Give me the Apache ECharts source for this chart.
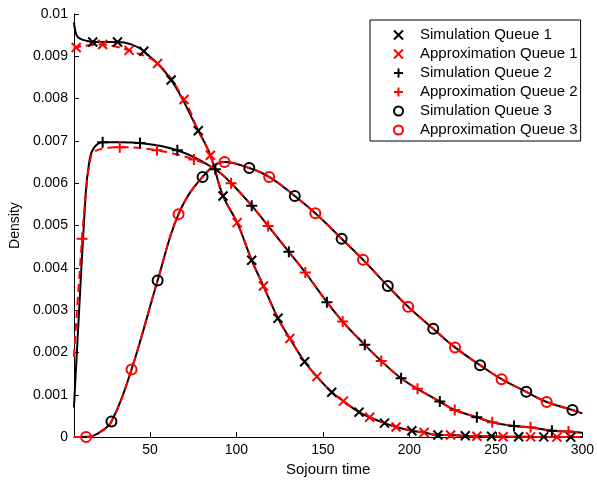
<!DOCTYPE html>
<html><head><meta charset="utf-8">
<script src="https://cdn.jsdelivr.net/npm/echarts@6/dist/echarts.min.js"></script>
<style>html,body{margin:0;padding:0;background:#fff}#c{width:597px;height:482px}</style>
</head><body><div id="c"></div>
<script>
const xTicks = [50, 100, 150, 200, 250, 300];

// Queue 1
const q1SimMarkers = [[16.9,0.00934],[31.2,0.00934],[46.4,0.00912],[62.2,0.00844],[77.9,0.00724],[92.2,0.00570],[108.8,0.00418],[124.0,0.00281],[139.4,0.00178],[155.1,0.00106],[170.9,0.00059],[185.6,0.00033],[201.4,0.00015],[216.5,0.00005],[232.3,0.00003],[247.5,0.00002],[263.2,0.00001],[277.7,0.000005],[293.3,0]];
const q1SimCurve = [[6,0.0098],[7.5,0.0095],[9.5,0.00942],[13,0.00937],[38.5,0.00929],[300,0]];
const q1AppMarkers = [[7.3,0.00921],[22.6,0.00928],[37.9,0.00914],[54.4,0.00883],[69.7,0.00798],[84.9,0.00666],[100.4,0.00507],[115.6,0.00357],[130.9,0.00233],[146.5,0.00143],[161.8,0.00085],[177.0,0.00047],[192.3,0.00024],[208.5,0.00011],[223.8,0.00005],[239.0,0.00002],[254.2,0.00001],[270.1,0.000005],[285.3,0]];
const q1AppCurve = [[6,0.00916],[15,0.00926],[30,0.00923],[300,0]];

// Queue 2
const q2SimMarkers = [[22.6,0.00697],[44.2,0.00695],[65.8,0.00678],[87.8,0.00633],[108.8,0.00547],[130.3,0.00438],[152.3,0.00319],[174.2,0.00218],[195.2,0.00139],[217.6,0.00084],[239.0,0.00047],[260.5,0.00026],[282.4,0.00015]];
const q2SimCurve = [[6,0.0007],[12.7,0.0057],[14.5,0.0064],[17,0.0068],[33,0.00697],[300,0.0001]];
const q2AppMarkers = [[10.7,0.00469],[32.5,0.00685],[54.0,0.00678],[75.4,0.00656],[96.9,0.00600],[118.3,0.00499],[139.8,0.00389],[161.4,0.00273],[183.7,0.00180],[204.7,0.00114],[226.2,0.00064],[247.9,0.00035],[270.1,0.00023],[292.0,0.00013]];
const q2AppCurve = [[6,0.0019],[13.5,0.0060],[15,0.00644],[17.8,0.00675],[300,0.0001]];

// Queue 3
const q3SimMarkers = [[27.7,0.00037],[54.4,0.00370],[80.4,0.00615],[107.4,0.00636],[133.7,0.00570],[160.8,0.00469],[187.5,0.00357],[213.8,0.00256],[240.9,0.00170],[267.6,0.00107],[294.3,0.00064]];
const q3SimCurve = [[6,0],[14,0.00001],[20,0.00009],[300,0.00056]];
const q3AppMarkers = [[13.0,0],[39.3,0.00160],[66.5,0.00527],[93.1,0.00650],[118.9,0.00615],[145.6,0.00529],[173.2,0.00419],[199.3,0.00308],[226.4,0.00212],[253.3,0.00137],[279.4,0.00083]];
const q3AppCurve = [[6,0],[20,0.00009],[300,0.00055]];

// x beyond which simulation and approximation curves coincide visually
const q1SharedFrom = 70, q2SharedFrom = 85, q3SharedFrom = 20;

const FONT = 'Liberation Sans, Arial, sans-serif';
const CROSS = 'path://M0,0L10,10M10,0L0,10';
const PLUS = 'path://M5,0L5,10M0,5L10,5';

function merged(own, markers, other, from) {
  const pts = own.concat(markers, other.filter(p => p[0] > from));
  pts.sort((p, q) => p[0] - q[0]);
  return pts;
}

function lineSeries(name, data, color, dashed) {
  return { name, type: 'line', data, smooth: 0.4, symbol: 'none', silent: true,
    lineStyle: { color, width: 2, type: dashed ? [8, 5] : 'solid' }, z: dashed ? 3 : 2 };
}
function markerSeries(name, data, color, symbol, size) {
  return { name, type: 'scatter', data, symbol, symbolSize: size, z: 5,
    itemStyle: { color: 'rgba(0,0,0,0)', borderColor: color, borderWidth: 2, opacity: 1 } };
}

const legendNames = ['Simulation Queue 1','Approximation Queue 1','Simulation Queue 2','Approximation Queue 2','Simulation Queue 3','Approximation Queue 3'];
const legendIcons = [CROSS, CROSS, PLUS, PLUS, 'circle', 'circle'];
const legendColors = ['#000','#f00','#000','#f00','#000','#f00'];

const chart = echarts.init(document.getElementById('c'), null, { renderer: 'canvas' });
chart.setOption({
  animation: false,
  backgroundColor: '#fff',
  textStyle: { fontFamily: FONT },
  grid: { left: 71, right: 12, top: 14, bottom: 39, containLabel: false },
  legend: {
    orient: 'vertical', left: 370, top: 20,
    padding: [7, 3, 3, 23],
    itemWidth: 9, itemHeight: 9, itemGap: 3,
    borderColor: '#000', borderWidth: 1, backgroundColor: '#fff',
    textStyle: { fontFamily: FONT, fontSize: 15, color: '#000', lineHeight: 16, padding: [0, 0, 0, 12] },
    data: legendNames.map((n, i) => ({ name: n, icon: legendIcons[i],
      itemStyle: { color: 'rgba(0,0,0,0)', borderColor: legendColors[i], borderWidth: 2 } }))
  },
  xAxis: {
    type: 'value', min: 6, max: 300,
    name: 'Sojourn time', nameLocation: 'middle', nameGap: 23,
    nameTextStyle: { fontFamily: FONT, fontSize: 15, color: '#000' },
    axisLine: { lineStyle: { color: '#000', width: 1 } },
    axisTick: { inside: true, length: 5, customValues: xTicks, lineStyle: { color: '#000' } },
    axisLabel: { customValues: xTicks, fontFamily: FONT, fontSize: 14, color: '#000', margin: 6 },
    splitLine: { show: false }
  },
  yAxis: {
    type: 'value', min: 0, max: 0.01, interval: 0.001,
    name: 'Density', nameLocation: 'middle', nameGap: 47,
    nameTextStyle: { fontFamily: FONT, fontSize: 14, color: '#000' },
    axisLine: { show: true, lineStyle: { color: '#000', width: 1 } },
    axisTick: { show: true, inside: true, length: 5, lineStyle: { color: '#000' } },
    axisLabel: { fontFamily: FONT, fontSize: 14, color: '#000', margin: 6 },
    splitLine: { show: false }
  },
  series: [
    lineSeries('q1SimLine', merged(q1SimCurve, q1SimMarkers, q1AppMarkers, q1SharedFrom), '#000', false),
    lineSeries('q2SimLine', merged(q2SimCurve, q2SimMarkers, q2AppMarkers, q2SharedFrom), '#000', false),
    lineSeries('q3SimLine', merged(q3SimCurve, q3SimMarkers, q3AppMarkers, q3SharedFrom), '#000', false),
    lineSeries('q1AppLine', merged(q1AppCurve, q1AppMarkers, q1SimMarkers, q1SharedFrom), '#f00', true),
    lineSeries('q2AppLine', merged(q2AppCurve, q2AppMarkers, q2SimMarkers, q2SharedFrom), '#f00', true),
    lineSeries('q3AppLine', merged(q3AppCurve, q3AppMarkers, q3SimMarkers, q3SharedFrom), '#f00', true),
    markerSeries('Simulation Queue 1', q1SimMarkers, '#000', CROSS, 9),
    markerSeries('Approximation Queue 1', q1AppMarkers, '#f00', CROSS, 9),
    markerSeries('Simulation Queue 2', q2SimMarkers, '#000', PLUS, 11),
    markerSeries('Approximation Queue 2', q2AppMarkers, '#f00', PLUS, 11),
    markerSeries('Simulation Queue 3', q3SimMarkers, '#000', 'circle', 10),
    markerSeries('Approximation Queue 3', q3AppMarkers, '#f00', 'circle', 10)
  ]
});
</script></body></html>
